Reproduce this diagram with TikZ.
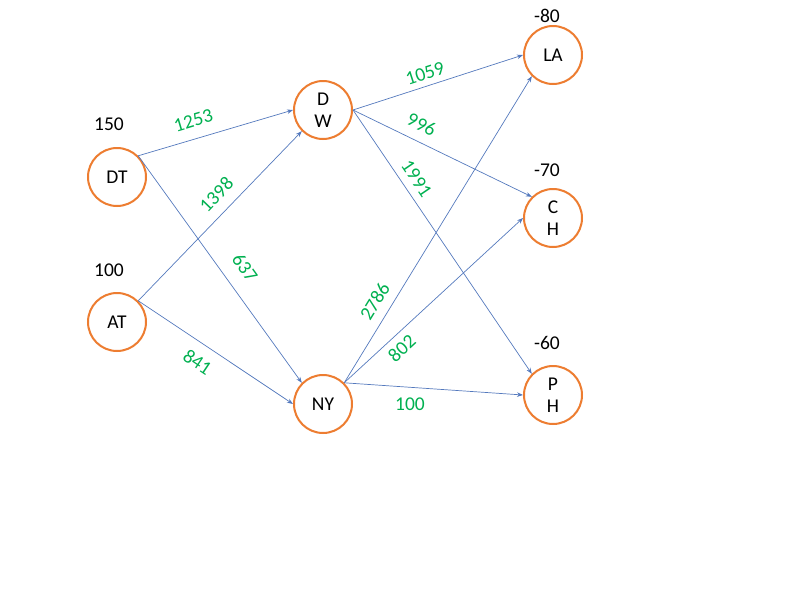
\documentclass[tikz,border=0pt]{standalone}
\usepackage{fontspec}
\setmainfont{Carlito}
\usetikzlibrary{arrows.meta}
\definecolor{nodeorange}{HTML}{ED7D31}
\definecolor{edgeblue}{HTML}{5479BD}
\definecolor{lblgreen}{HTML}{00B050}
\tikzset{
  city/.style={circle, draw=nodeorange, line width=2pt, fill=white, minimum size=58pt, inner sep=0pt, align=center, font=\fontsize{19.5pt}{22pt}\selectfont},
  val/.style={font=\fontsize{19.5pt}{22pt}\selectfont, inner sep=0pt},
  flow/.style={draw=edgeblue, line width=0.7pt, -{Stealth[length=6pt,width=4.5pt]}},
  cost/.style={text=lblgreen, font=\fontsize{19.5pt}{22pt}\selectfont, inner sep=0pt}
}
\begin{document}
\begin{tikzpicture}[x=1pt,y=-1pt]
\useasboundingbox (0,0) rectangle (800,600);
\node[city] (DT) at (117,177) {DT};
\node[city] (AT) at (117,322) {AT};
\node[city] (DW) at (323,110) {D\\W};
\node[city] (NY) at (323,404) {NY};
\node[city] (LA) at (553,55) {LA};
\node[city] (CH) at (553,218) {C\\H};
\node[city] (PH) at (553,395) {P\\H};

\node[val] (vDT) at (109,124) {150};
\node[val] (vAT) at (109,270) {100};
\node[val] (vLA) at (547,16) {-80};
\node[val] (vCH) at (547,170) {-70};
\node[val] (vPH) at (547,343) {-60};

\draw[flow] (DT.45) -- node[cost, sloped, above=11.5pt, pos=0.39] {1253} (DW.west);
\draw[flow] (AT.45) -- node[cost, sloped, above=10.5pt, pos=0.555] {1398} (DW.225);
\draw[flow] (DT.45) -- node[cost, sloped, above=14.5pt, pos=0.547] {637} (NY.135);
\draw[flow] (AT.45) -- node[cost, sloped, below=11pt, pos=0.448] {841} (NY.west);
\draw[flow] (DW.east) -- node[cost, sloped, above=5.5pt, pos=0.446] {1059} (LA.west);
\draw[flow] (DW.east) -- node[cost, sloped, above=10pt, pos=0.342] {996} (CH.135);
\draw[flow] (DW.east) -- node[cost, sloped, above=7.5pt, pos=0.29] {1991} (PH.135);
\draw[flow] (NY.45) -- node[cost, sloped, above=9.5pt, pos=0.238] {2786} (LA.225);
\draw[flow] (NY.45) -- node[cost, sloped, below=6.5pt, pos=0.271] {802} (CH.west);
\draw[flow] (NY.45) -- node[cost, below=10.5pt, pos=0.368] {100} (PH.west);
\end{tikzpicture}
\end{document}
